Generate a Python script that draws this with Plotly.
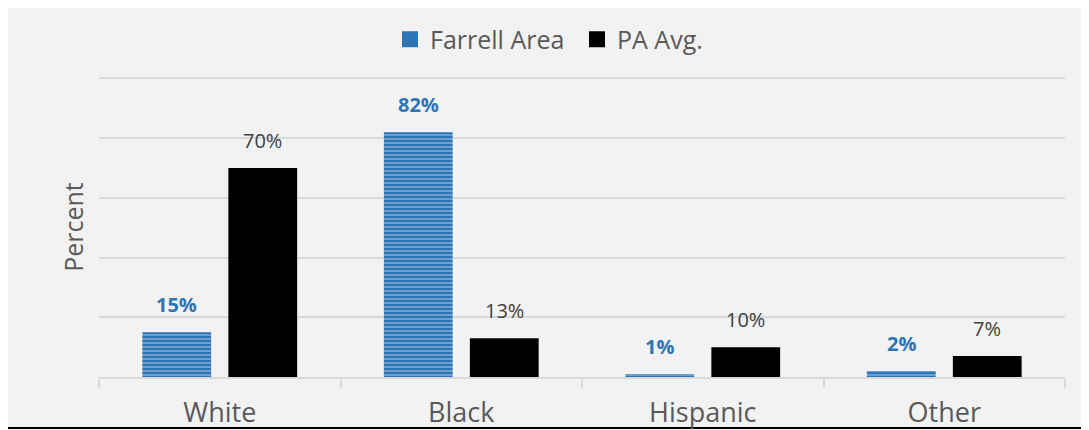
import plotly.graph_objects as go

categories = ["White", "Black", "Hispanic", "Other"]
farrell = [15, 82, 1, 2]
pa_avg = [70, 13, 10, 7]
farrell_labels = ["15%", "82%", "1%", "2%"]
pa_labels = ["70%", "13%", "10%", "7%"]

BLUE = "#2e75b6"
BG = "#f2f2f2"
GRID = "#d9d9d9"
TXT = "#595959"
FONT = "Open Sans"

fig = go.Figure()
fig.add_trace(go.Bar(
    name="Farrell Area", x=categories, y=farrell, showlegend=False,
    marker=dict(color=BLUE, line=dict(width=0),
                pattern=dict(shape="-", fgcolor="white", bgcolor=BLUE, size=4, solidity=0.3)),
))
fig.add_trace(go.Bar(
    name="PA Avg.", x=categories, y=pa_avg, showlegend=False,
    marker=dict(color="black", line=dict(width=0)),
))
# legend entries with larger square swatches
fig.add_trace(go.Scatter(name="Farrell Area", x=[categories[0]], y=[None], mode="markers",
                         marker=dict(symbol="square", size=16, color=BLUE), hoverinfo="skip"))
fig.add_trace(go.Scatter(name="PA Avg.", x=[categories[0]], y=[None], mode="markers",
                         marker=dict(symbol="square", size=16, color="black"), hoverinfo="skip"))

for c, v, t in zip(categories, farrell, farrell_labels):
    fig.add_annotation(x=c, y=v, text="<b>%s</b>" % t, showarrow=False, xshift=-43,
                       yanchor="bottom", yshift=12, font=dict(family=FONT, size=20, color=BLUE))
for c, v, t in zip(categories, pa_avg, pa_labels):
    fig.add_annotation(x=c, y=v, text=t, showarrow=False, xshift=43,
                       yanchor="bottom", yshift=12, font=dict(family=FONT, size=20, color="#404040"))

# black line at the bottom of the picture
fig.add_shape(type="rect", xref="paper", yref="paper", x0=-91/966, x1=1 + 24/966,
              y0=-52/300, y1=-50/300, fillcolor="black", line=dict(width=0), layer="below")

fig.update_layout(
    width=1081, height=422,
    margin=dict(l=91, r=24, t=69, b=53, autoexpand=False),
    paper_bgcolor=BG, plot_bgcolor=BG,
    barmode="group", bargap=0.288, bargroupgap=0.2,
    font=dict(family=FONT, color=TXT),
    showlegend=True,
    legend=dict(orientation="h", x=(382 - 91) / 966, xanchor="left", y=1.125, yanchor="middle",
                font=dict(family=FONT, size=25, color=TXT), bgcolor="rgba(0,0,0,0)",
                itemwidth=30, entrywidth=142, traceorder="normal"),
    xaxis=dict(showgrid=False, showline=True, linecolor=GRID, linewidth=2, automargin=False,
               ticks="outside", tickson="boundaries", ticklen=9, tickcolor=GRID, tickwidth=2,
               ticklabelstandoff=11,
               tickfont=dict(family=FONT, size=27, color=TXT)),
    yaxis=dict(range=[0, 100.5], tickvals=[20, 40, 60, 80, 100], showticklabels=False,
               showgrid=True, gridcolor=GRID, automargin=False,
               gridwidth=2, zeroline=False, showline=False,
               title=dict(text="Percent", font=dict(family=FONT, size=25, color=TXT), standoff=7)),
)

fig.write_html("out.html")
